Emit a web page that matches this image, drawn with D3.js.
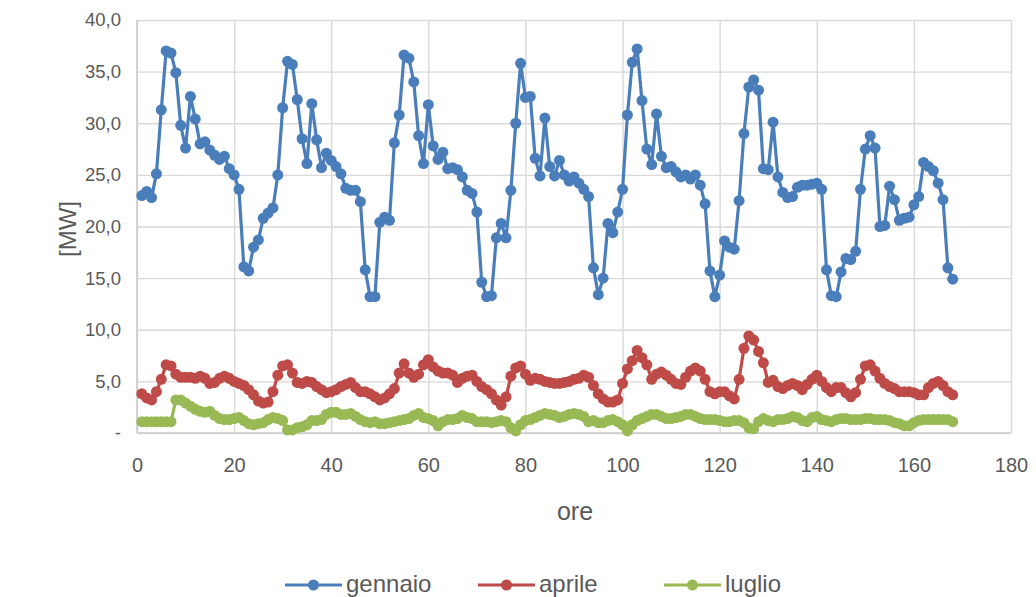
<!DOCTYPE html>
<html><head><meta charset="utf-8">
<script src="https://cdn.jsdelivr.net/npm/d3@7"></script>
<style>body{margin:0;background:#fff}svg{display:block}</style>
</head><body><svg id="c" width="1036" height="597"></svg>
<script>
const hours = d3.range(1, 169);
const gennaio = [
23.0,23.4,22.8,25.1,31.3,37.0,36.8,34.9,29.8,27.6,
32.6,30.4,28.0,28.2,27.4,26.9,26.5,26.8,25.6,25.0,
23.6,16.1,15.7,18.0,18.7,20.8,21.3,21.8,25.0,31.5,
36.0,35.7,32.3,28.5,26.1,31.9,28.4,25.7,27.1,26.4,
25.8,25.1,23.7,23.5,23.5,22.4,15.8,13.2,13.2,20.4,
20.9,20.6,28.1,30.8,36.6,36.3,34.0,28.8,26.1,31.8,
27.8,26.5,27.2,25.6,25.7,25.5,24.8,23.5,23.2,21.4,
14.6,13.2,13.3,18.9,20.3,18.9,23.5,30.0,35.8,32.5,
32.6,26.6,24.9,30.5,25.8,24.9,26.4,25.0,24.4,24.8,
24.2,23.6,22.9,16.0,13.4,15.0,20.3,19.4,21.4,23.6,
30.8,35.9,37.2,32.2,27.5,26.0,30.9,26.8,25.7,25.8,
25.3,24.8,25.0,24.6,25.0,24.0,22.2,15.7,13.2,15.3,
18.6,18.0,17.8,22.5,29.0,33.5,34.2,33.2,25.6,25.5,
30.1,24.8,23.3,22.8,22.9,23.8,24.0,24.0,24.1,24.2,
23.6,15.8,13.3,13.2,15.6,16.9,16.8,17.6,23.6,27.5,
28.8,27.6,20.0,20.1,23.9,22.6,20.6,20.8,20.9,22.1,
22.9,26.2,25.8,25.4,24.2,22.6,16.0,14.9];
const aprile = [
3.8,3.4,3.2,4.0,5.2,6.6,6.5,5.7,5.4,5.4,
5.4,5.3,5.5,5.3,4.8,4.9,5.3,5.5,5.3,5.0,
4.8,4.6,4.2,3.7,3.1,2.9,3.0,4.0,5.6,6.5,
6.6,5.8,4.9,4.8,5.0,4.9,4.5,4.2,3.9,4.0,
4.2,4.5,4.7,4.9,4.4,4.0,4.0,3.8,3.5,3.2,
3.4,3.8,4.3,5.8,6.7,5.8,5.4,5.7,6.6,7.1,
6.4,6.0,5.8,5.8,5.6,4.9,5.3,5.5,5.6,5.0,
4.5,4.2,3.8,3.2,2.7,3.5,5.5,6.3,6.5,5.7,
5.1,5.3,5.2,5.0,4.9,4.8,4.8,4.9,5.0,5.2,
5.3,5.6,5.4,4.6,3.8,3.3,3.0,3.0,3.2,4.8,
6.2,7.0,8.0,7.3,6.6,5.2,5.7,5.9,5.6,5.2,
4.8,4.7,5.4,6.0,6.3,6.0,5.2,4.0,3.8,4.0,
4.0,3.6,3.3,5.2,8.2,9.4,9.0,7.9,6.8,4.9,
5.1,4.5,4.3,4.6,4.8,4.6,4.2,4.7,5.2,5.6,
5.0,4.4,4.0,4.4,4.4,3.9,3.5,3.9,5.2,6.5,
6.6,6.0,5.3,4.8,4.5,4.3,4.0,4.0,4.0,3.9,
3.7,3.7,4.4,4.8,5.0,4.6,4.0,3.7];
const luglio = [
1.1,1.1,1.1,1.1,1.1,1.1,1.1,3.2,3.2,2.9,
2.6,2.3,2.1,2.0,2.1,1.7,1.4,1.3,1.3,1.4,
1.5,1.2,0.9,0.8,0.9,1.0,1.3,1.5,1.4,1.2,
0.3,0.3,0.5,0.6,0.8,1.2,1.2,1.3,1.8,2.0,
2.0,1.8,1.8,1.9,1.6,1.3,1.1,1.0,1.1,0.9,
0.9,1.0,1.1,1.2,1.3,1.4,1.7,1.9,1.5,1.4,
1.2,0.7,1.1,1.3,1.3,1.4,1.7,1.5,1.4,1.1,
1.1,1.1,1.0,1.1,1.2,1.1,0.5,0.2,0.8,1.2,
1.3,1.5,1.7,1.9,1.8,1.7,1.5,1.6,1.8,1.9,
1.8,1.6,1.1,1.2,1.0,1.0,1.2,1.3,1.1,0.8,
0.2,0.8,1.2,1.4,1.6,1.8,1.8,1.6,1.4,1.4,
1.5,1.6,1.8,1.8,1.6,1.4,1.3,1.3,1.3,1.2,
1.1,1.1,1.2,1.2,1.0,0.5,0.4,1.1,1.4,1.2,
1.1,1.3,1.3,1.4,1.6,1.5,1.2,1.1,1.5,1.6,
1.3,1.2,1.1,1.3,1.4,1.4,1.3,1.3,1.3,1.4,
1.4,1.3,1.3,1.3,1.2,1.0,0.9,0.7,0.7,1.0,
1.2,1.3,1.3,1.3,1.3,1.3,1.3,1.1];
const seriesNames = ["gennaio", "aprile", "luglio"];
const seriesColors = ["#4a7ebb", "#be4b48", "#98b954"];
const xTicks = [0, 20, 40, 60, 80, 100, 120, 140, 160, 180];
const yTicks = [0, 5, 10, 15, 20, 25, 30, 35, 40];
const yTickLabels = ["-", "5,0", "10,0", "15,0", "20,0", "25,0", "30,0", "35,0", "40,0"];
const xTitle = "ore";
const yTitle = "[MW]";

const FONT = "'Liberation Sans', Arial, sans-serif";
const TXT = "#595959";
const svg = d3.select("#c");
svg.append("rect").attr("width", 1036).attr("height", 597).attr("fill", "#fff");

const L = 137, R = 1011, T = 20, B = 433;
const x = d3.scaleLinear().domain([0, 180]).range([L, R]);
const y = d3.scaleLinear().domain([0, 40]).range([B, T]);

// grid
const gx = svg.append("g").attr("transform", `translate(0,${B})`)
  .call(d3.axisBottom(x).tickValues(xTicks).tickSize(-(B - T)).tickFormat(""));
gx.select(".domain").remove();
gx.selectAll("line").attr("stroke", "#d9d9d9").attr("stroke-width", 1.4);
const gy = svg.append("g").attr("transform", `translate(${L},0)`)
  .call(d3.axisLeft(y).tickValues(yTicks).tickSize(-(R - L)).tickFormat(""));
gy.select(".domain").remove();
gy.selectAll("line").attr("stroke", "#d9d9d9").attr("stroke-width", 1.4);

// axis lines
svg.append("line").attr("x1", L).attr("x2", L).attr("y1", T).attr("y2", B).attr("stroke", "#cccccc").attr("stroke-width", 1.6);
svg.append("line").attr("x1", L).attr("x2", R).attr("y1", B).attr("y2", B).attr("stroke", "#cccccc").attr("stroke-width", 1.6);

// tick labels
const ax = svg.append("g").attr("transform", `translate(0,${B})`)
  .call(d3.axisBottom(x).tickValues(xTicks).tickSize(0).tickPadding(25).tickFormat(d3.format("d")));
ax.select(".domain").remove();
ax.selectAll("text").attr("fill", TXT).style("font-family", FONT).style("font-size", "20px");
const ay = svg.append("g").attr("transform", `translate(${L},0)`)
  .call(d3.axisLeft(y).tickValues(yTicks).tickSize(0).tickPadding(16).tickFormat((d, i) => yTickLabels[i]));
ay.select(".domain").remove();
ay.selectAll("text").attr("fill", TXT).style("font-family", FONT).style("font-size", "18.5px");

// titles
svg.append("text").attr("x", 575).attr("y", 520).attr("text-anchor", "middle")
  .attr("fill", TXT).style("font-family", FONT).style("font-size", "25px").text(xTitle);
svg.append("text").attr("transform", "translate(76,229) rotate(-90)").attr("text-anchor", "middle")
  .attr("fill", TXT).style("font-family", FONT).style("font-size", "24px").text(yTitle);

// series
const allSeries = [gennaio, aprile, luglio];
const line = d3.line().x((d, i) => x(hours[i])).y(d => y(d));
allSeries.forEach((vals, si) => {
  const g = svg.append("g");
  g.append("path").datum(vals).attr("d", line).attr("fill", "none")
    .attr("stroke", seriesColors[si]).attr("stroke-width", 3.2).attr("stroke-linejoin", "round");
  g.selectAll("circle").data(vals).join("circle")
    .attr("cx", (d, i) => x(hours[i])).attr("cy", d => y(d)).attr("r", 5.5)
    .attr("fill", seriesColors[si]);
});

// legend
const legendX = [285, 478, 664];
seriesNames.forEach((n, i) => {
  const g = svg.append("g").attr("transform", `translate(${legendX[i]},585)`);
  g.append("line").attr("x1", 0).attr("x2", 57).attr("y1", 0).attr("y2", 0)
    .attr("stroke", seriesColors[i]).attr("stroke-width", 3.2);
  g.append("circle").attr("cx", 28.5).attr("cy", 0).attr("r", 5.5).attr("fill", seriesColors[i]);
  g.append("text").attr("x", 61).attr("y", 7).attr("fill", TXT)
    .style("font-family", FONT).style("font-size", "24px").text(n);
});
</script></body></html>
